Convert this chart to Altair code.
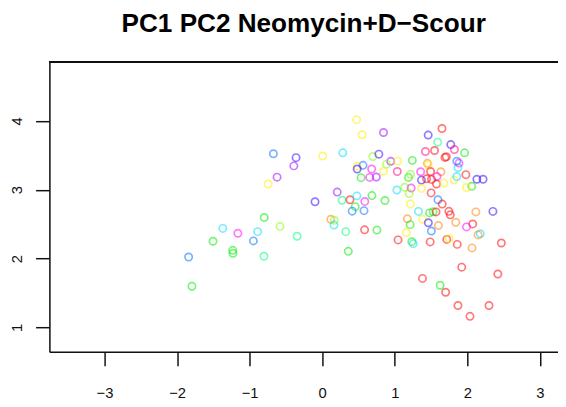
import altair as alt
import pandas as pd

pc1 = [-0.673, -0.391, -0.622, -0.745, -0.799, -0.582, -0.346, -1.370, -1.162, -0.890,
       -1.505, -0.948, -1.234, -1.230, -0.803, -1.841, -1.795, 0.474, 0.550, 0.845,
       1.651, 1.461, 1.592, 1.772, 1.823, 1.962, 1.423, 1.548, 1.692, 1.711,
       -0.360, 0.007, 0.284, 0.698, 0.781, 0.944, 1.042, 0.886, 1.242, 0.482,
       0.563, 0.482, 0.682, 0.845, 1.035, 0.535, 0.655, 0.746, 1.450, 1.461,
       1.357, 1.493, 1.636, 1.582, 1.189, 1.216, 1.368, 1.439, 1.507, 1.575,
       1.677, 1.819, 1.980, 1.855, 1.871, 1.855, 1.885, 2.132, 2.217, 2.061,
       1.989, 1.029, 1.137, 1.226, 1.198, 1.368, 1.501, 0.207, -0.099, 0.274,
       0.383, 0.686, 0.478, 0.587, 0.865, 1.216, 1.595, 1.654, 0.455, 0.413,
       0.576, 1.327, 1.480, 1.529, 1.569, 1.746, 1.765, 2.118, 2.353, 1.382,
       1.174, 1.212, 1.463, 1.504, 1.602, 1.841, 2.075, 1.989, 0.118, 0.166,
       0.162, 0.325, 0.584, 0.754, 0.360, 1.160, 2.179, 2.149, 1.045, 1.235,
       1.255, 1.488, 1.717, 1.749, 1.861, 2.065, 2.469, 1.923, 2.421, 1.382,
       1.626, 1.701, 1.871, 2.299, 2.037]

pc2 = [3.523, 3.347, 3.183, 3.083, 2.596, 2.467, 2.324, 2.438, 2.367, 2.391,
       2.252, 2.256, 2.119, 2.076, 2.033, 2.023, 1.597, 4.019, 3.799, 3.832,
       3.890, 3.795, 3.692, 3.656, 3.585, 3.537, 3.556, 3.570, 3.470, 3.480,
       3.466, 3.491, 3.537, 3.484, 3.517, 3.413, 3.417, 3.372, 3.427, 3.341,
       3.355, 3.301, 3.301, 3.269, 3.266, 3.176, 3.179, 3.186, 3.384, 3.360,
       3.262, 3.265, 3.262, 3.193, 3.179, 3.226, 3.140, 3.159, 3.150, 3.083,
       3.097, 3.140, 3.219, 3.191, 3.324, 3.415, 3.388, 3.152, 3.152, 3.050,
       3.033, 2.997, 3.036, 3.026, 2.944, 3.019, 2.954, 2.966, 2.825, 2.847,
       2.854, 2.915, 2.911, 2.830, 2.844, 2.792, 2.854, 2.792, 2.754, 2.689,
       2.696, 2.685, 2.663, 2.679, 2.678, 2.686, 2.635, 2.678, 2.685, 2.570,
       2.577, 2.493, 2.520, 2.400, 2.479, 2.527, 2.503, 2.460, 2.570, 2.557,
       2.486, 2.391, 2.417, 2.414, 2.105, 2.377, 2.361, 2.344, 2.271, 2.245,
       2.216, 2.242, 2.278, 2.291, 2.206, 2.155, 2.226, 1.875, 1.776, 1.711,
       1.612, 1.510, 1.317, 1.318, 1.160]

group = ["B", "P", "P", "Y", "G", "YG", "GC", "C", "M", "C",
         "G", "B", "G", "G", "GC", "B", "G", "Y", "Y", "P",
         "R", "I", "GC", "I", "K", "G", "K", "R", "R", "R",
         "I", "Y", "C", "YG", "I", "P", "Y", "YG", "G", "Y",
         "B", "I", "M", "Y", "K", "G", "M", "P", "O", "Y",
         "M", "R", "O", "M", "G", "YG", "I", "R", "R", "R",
         "Y", "Y", "R", "C", "C", "B", "M", "I", "I", "G",
         "Y", "C", "YG", "M", "YG", "Y", "R", "P", "I", "GC",
         "R", "G", "C", "M", "G", "Y", "B", "R", "G", "B",
         "B", "C", "G", "G", "R", "R", "R", "O", "I", "Y",
         "O", "G", "I", "B", "O", "O", "R", "M", "O", "YG",
         "C", "GC", "R", "G", "G", "Y", "C", "O", "R", "G",
         "C", "R", "R", "Y", "R", "O", "R", "R", "R", "R",
         "G", "R", "R", "R", "R"]

group_codes = ["R", "O", "Y", "YG", "G", "GC", "C", "B", "I", "P", "M", "K"]
group_colors = ["#FF0000", "#FF8000", "#FFEE00", "#80FF00", "#00EE00", "#00FF80",
                "#00DDFF", "#0070FF", "#3300FF", "#9900FF", "#FF00FF", "#FF0088"]

x_ticks = [-3, -2, -1, 0, 1, 2, 3]
y_ticks = [1, 2, 3, 4]
title_text = ["PC1 PC2 Neomycin+D\u2212Scour"]

df = pd.DataFrame({"pc1": pc1, "pc2": pc2, "group": group})

W, H = 516, 294
FONT = "Liberation Sans"

points = alt.Chart(df).mark_point(
    shape="circle", filled=False, size=55, strokeWidth=1.7, strokeOpacity=0.75
).encode(
    x=alt.X("pc1:Q",
            scale=alt.Scale(domain=[-3.76, 3.25], nice=False, zero=False),
            axis=alt.Axis(values=x_ticks, title=None, grid=False, tickSize=14,
                          tickWidth=1.5, tickColor="#111", domainColor="#111",
                          domainWidth=1.5, labelFont=FONT, labelFontSize=15,
                          labelColor="#111", labelPadding=20, labelFlush=False,
                          labelOverlap=False,
                          labelExpr="replace(datum.label, '-', '\u2212')")),
    y=alt.Y("pc2:Q",
            scale=alt.Scale(domain=[0.644, 4.856], nice=False, zero=False),
            axis=alt.Axis(values=y_ticks, title=None, grid=False, tickSize=14,
                          tickWidth=1.5, tickColor="#111", domainColor="#111",
                          domainWidth=1.5, labelFont=FONT, labelFontSize=15,
                          labelColor="#111", labelAngle=270, labelAlign="center",
                          labelBaseline="alphabetic", labelPadding=14,
                          labelOverlap=False)),
    color=alt.Color("group:N", scale=alt.Scale(domain=group_codes, range=group_colors),
                    legend=None),
)

top_line = alt.Chart(df).mark_rule(color="#111", strokeWidth=1.5).encode(
    x=alt.value(0), x2=alt.value(W), y=alt.value(0)
)

title = alt.Chart(pd.DataFrame({"t": title_text})).mark_text(
    font=FONT, fontSize=26.5, fontWeight="bold", color="#000",
    align="center", baseline="alphabetic"
).encode(text="t:N", x=alt.value(W / 2), y=alt.value(-30))

chart = alt.layer(points, top_line, title).properties(
    width=W, height=H,
    padding={"left": 42, "top": 52, "right": 0, "bottom": 45},
    autosize="none",
).configure_view(stroke=None).configure(background="white")

chart.save("out.html", embed_options={"renderer": "svg", "actions": False})
